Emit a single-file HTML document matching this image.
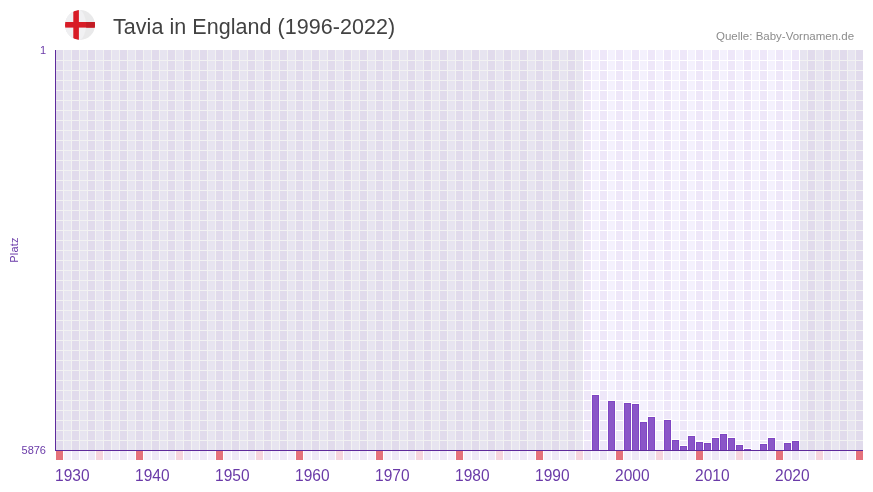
<!DOCTYPE html>
<html><head><meta charset="utf-8">
<style>
html,body{margin:0;padding:0;background:#fff;width:873px;height:492px;overflow:hidden;position:relative;font-family:"Liberation Sans",sans-serif;}
.t{position:absolute;white-space:nowrap;-webkit-font-smoothing:antialiased;will-change:transform;}
</style></head><body>
<svg width="873" height="492" style="position:absolute;left:0;top:0">
<defs><clipPath id="cc"><circle cx="80" cy="25" r="15"/></clipPath></defs>
<g clip-path="url(#cc)">
<rect x="60" y="5" width="40" height="40" fill="#e9e9ea"/>
<rect x="60" y="5" width="18" height="40" fill="#efeff1"/>
<ellipse cx="78" cy="25" rx="8" ry="15.6" fill="#f1f1f3"/>
<path d="M73.3 11.6 L78.9 9.6 L78.9 40.5 L73.3 38.4 Z" fill="#d81c26"/>
<rect x="64" y="22" width="32" height="5.6" fill="#d81c26"/>
<rect x="86.2" y="22" width="10" height="5.6" fill="#c21c24"/>
</g>
</svg>
<div class="t" id="title" style="left:113px;top:15px;font-size:21.5px;letter-spacing:0.05px;color:#424242;">Tavia in England (1996-2022)</div>
<div class="t" id="src" style="left:716px;top:30px;font-size:11.5px;color:#8c8c8c;">Quelle: Baby-Vornamen.de</div>
<svg width="873" height="492" style="position:absolute;left:0;top:0;will-change:transform;-webkit-font-smoothing:antialiased" shape-rendering="crispEdges" font-family="Liberation Sans, sans-serif">
<rect x="56" y="50" width="7" height="400" fill="#eee7f9"/><rect x="64" y="50" width="7" height="400" fill="#f4f1fd"/><rect x="72" y="50" width="7" height="400" fill="#eee7f9"/><rect x="80" y="50" width="7" height="400" fill="#f4f1fd"/><rect x="88" y="50" width="7" height="400" fill="#eee7f9"/><rect x="96" y="50" width="7" height="400" fill="#f4f1fd"/><rect x="104" y="50" width="7" height="400" fill="#eee7f9"/><rect x="112" y="50" width="7" height="400" fill="#f4f1fd"/><rect x="120" y="50" width="7" height="400" fill="#eee7f9"/><rect x="128" y="50" width="7" height="400" fill="#f4f1fd"/><rect x="136" y="50" width="7" height="400" fill="#eee7f9"/><rect x="144" y="50" width="7" height="400" fill="#f4f1fd"/><rect x="152" y="50" width="7" height="400" fill="#eee7f9"/><rect x="160" y="50" width="7" height="400" fill="#f4f1fd"/><rect x="168" y="50" width="7" height="400" fill="#eee7f9"/><rect x="176" y="50" width="7" height="400" fill="#f4f1fd"/><rect x="184" y="50" width="7" height="400" fill="#eee7f9"/><rect x="192" y="50" width="7" height="400" fill="#f4f1fd"/><rect x="200" y="50" width="7" height="400" fill="#eee7f9"/><rect x="208" y="50" width="7" height="400" fill="#f4f1fd"/><rect x="216" y="50" width="7" height="400" fill="#eee7f9"/><rect x="224" y="50" width="7" height="400" fill="#f4f1fd"/><rect x="232" y="50" width="7" height="400" fill="#eee7f9"/><rect x="240" y="50" width="7" height="400" fill="#f4f1fd"/><rect x="248" y="50" width="7" height="400" fill="#eee7f9"/><rect x="256" y="50" width="7" height="400" fill="#f4f1fd"/><rect x="264" y="50" width="7" height="400" fill="#eee7f9"/><rect x="272" y="50" width="7" height="400" fill="#f4f1fd"/><rect x="280" y="50" width="7" height="400" fill="#eee7f9"/><rect x="288" y="50" width="7" height="400" fill="#f4f1fd"/><rect x="296" y="50" width="7" height="400" fill="#eee7f9"/><rect x="304" y="50" width="7" height="400" fill="#f4f1fd"/><rect x="312" y="50" width="7" height="400" fill="#eee7f9"/><rect x="320" y="50" width="7" height="400" fill="#f4f1fd"/><rect x="328" y="50" width="7" height="400" fill="#eee7f9"/><rect x="336" y="50" width="7" height="400" fill="#f4f1fd"/><rect x="344" y="50" width="7" height="400" fill="#eee7f9"/><rect x="352" y="50" width="7" height="400" fill="#f4f1fd"/><rect x="360" y="50" width="7" height="400" fill="#eee7f9"/><rect x="368" y="50" width="7" height="400" fill="#f4f1fd"/><rect x="376" y="50" width="7" height="400" fill="#eee7f9"/><rect x="384" y="50" width="7" height="400" fill="#f4f1fd"/><rect x="392" y="50" width="7" height="400" fill="#eee7f9"/><rect x="400" y="50" width="7" height="400" fill="#f4f1fd"/><rect x="408" y="50" width="7" height="400" fill="#eee7f9"/><rect x="416" y="50" width="7" height="400" fill="#f4f1fd"/><rect x="424" y="50" width="7" height="400" fill="#eee7f9"/><rect x="432" y="50" width="7" height="400" fill="#f4f1fd"/><rect x="440" y="50" width="7" height="400" fill="#eee7f9"/><rect x="448" y="50" width="7" height="400" fill="#f4f1fd"/><rect x="456" y="50" width="7" height="400" fill="#eee7f9"/><rect x="464" y="50" width="7" height="400" fill="#f4f1fd"/><rect x="472" y="50" width="7" height="400" fill="#eee7f9"/><rect x="480" y="50" width="7" height="400" fill="#f4f1fd"/><rect x="488" y="50" width="7" height="400" fill="#eee7f9"/><rect x="496" y="50" width="7" height="400" fill="#f4f1fd"/><rect x="504" y="50" width="7" height="400" fill="#eee7f9"/><rect x="512" y="50" width="7" height="400" fill="#f4f1fd"/><rect x="520" y="50" width="7" height="400" fill="#eee7f9"/><rect x="528" y="50" width="7" height="400" fill="#f4f1fd"/><rect x="536" y="50" width="7" height="400" fill="#eee7f9"/><rect x="544" y="50" width="7" height="400" fill="#f4f1fd"/><rect x="552" y="50" width="7" height="400" fill="#eee7f9"/><rect x="560" y="50" width="7" height="400" fill="#f4f1fd"/><rect x="568" y="50" width="7" height="400" fill="#eee7f9"/><rect x="576" y="50" width="7" height="400" fill="#f4f1fd"/><rect x="584" y="50" width="7" height="400" fill="#eee7f9"/><rect x="592" y="50" width="7" height="400" fill="#f4f1fd"/><rect x="600" y="50" width="7" height="400" fill="#eee7f9"/><rect x="608" y="50" width="7" height="400" fill="#f4f1fd"/><rect x="616" y="50" width="7" height="400" fill="#eee7f9"/><rect x="624" y="50" width="7" height="400" fill="#f4f1fd"/><rect x="632" y="50" width="7" height="400" fill="#eee7f9"/><rect x="640" y="50" width="7" height="400" fill="#f4f1fd"/><rect x="648" y="50" width="7" height="400" fill="#eee7f9"/><rect x="656" y="50" width="7" height="400" fill="#f4f1fd"/><rect x="664" y="50" width="7" height="400" fill="#eee7f9"/><rect x="672" y="50" width="7" height="400" fill="#f4f1fd"/><rect x="680" y="50" width="7" height="400" fill="#eee7f9"/><rect x="688" y="50" width="7" height="400" fill="#f4f1fd"/><rect x="696" y="50" width="7" height="400" fill="#eee7f9"/><rect x="704" y="50" width="7" height="400" fill="#f4f1fd"/><rect x="712" y="50" width="7" height="400" fill="#eee7f9"/><rect x="720" y="50" width="7" height="400" fill="#f4f1fd"/><rect x="728" y="50" width="7" height="400" fill="#eee7f9"/><rect x="736" y="50" width="7" height="400" fill="#f4f1fd"/><rect x="744" y="50" width="7" height="400" fill="#eee7f9"/><rect x="752" y="50" width="7" height="400" fill="#f4f1fd"/><rect x="760" y="50" width="7" height="400" fill="#eee7f9"/><rect x="768" y="50" width="7" height="400" fill="#f4f1fd"/><rect x="776" y="50" width="7" height="400" fill="#eee7f9"/><rect x="784" y="50" width="7" height="400" fill="#f4f1fd"/><rect x="792" y="50" width="7" height="400" fill="#eee7f9"/><rect x="800" y="50" width="7" height="400" fill="#f4f1fd"/><rect x="808" y="50" width="7" height="400" fill="#eee7f9"/><rect x="816" y="50" width="7" height="400" fill="#f4f1fd"/><rect x="824" y="50" width="7" height="400" fill="#eee7f9"/><rect x="832" y="50" width="7" height="400" fill="#f4f1fd"/><rect x="840" y="50" width="7" height="400" fill="#eee7f9"/><rect x="848" y="50" width="7" height="400" fill="#f4f1fd"/><rect x="856" y="50" width="7" height="400" fill="#eee7f9"/><rect x="56" y="60" width="807" height="1" fill="#fff"/><rect x="56" y="70" width="807" height="1" fill="#fff"/><rect x="56" y="80" width="807" height="1" fill="#fff"/><rect x="56" y="90" width="807" height="1" fill="#fff"/><rect x="56" y="100" width="807" height="1" fill="#fff"/><rect x="56" y="110" width="807" height="1" fill="#fff"/><rect x="56" y="120" width="807" height="1" fill="#fff"/><rect x="56" y="130" width="807" height="1" fill="#fff"/><rect x="56" y="140" width="807" height="1" fill="#fff"/><rect x="56" y="150" width="807" height="1" fill="#fff"/><rect x="56" y="160" width="807" height="1" fill="#fff"/><rect x="56" y="170" width="807" height="1" fill="#fff"/><rect x="56" y="180" width="807" height="1" fill="#fff"/><rect x="56" y="190" width="807" height="1" fill="#fff"/><rect x="56" y="200" width="807" height="1" fill="#fff"/><rect x="56" y="210" width="807" height="1" fill="#fff"/><rect x="56" y="220" width="807" height="1" fill="#fff"/><rect x="56" y="230" width="807" height="1" fill="#fff"/><rect x="56" y="240" width="807" height="1" fill="#fff"/><rect x="56" y="250" width="807" height="1" fill="#fff"/><rect x="56" y="260" width="807" height="1" fill="#fff"/><rect x="56" y="270" width="807" height="1" fill="#fff"/><rect x="56" y="280" width="807" height="1" fill="#fff"/><rect x="56" y="290" width="807" height="1" fill="#fff"/><rect x="56" y="300" width="807" height="1" fill="#fff"/><rect x="56" y="310" width="807" height="1" fill="#fff"/><rect x="56" y="320" width="807" height="1" fill="#fff"/><rect x="56" y="330" width="807" height="1" fill="#fff"/><rect x="56" y="340" width="807" height="1" fill="#fff"/><rect x="56" y="350" width="807" height="1" fill="#fff"/><rect x="56" y="360" width="807" height="1" fill="#fff"/><rect x="56" y="370" width="807" height="1" fill="#fff"/><rect x="56" y="380" width="807" height="1" fill="#fff"/><rect x="56" y="390" width="807" height="1" fill="#fff"/><rect x="56" y="400" width="807" height="1" fill="#fff"/><rect x="56" y="410" width="807" height="1" fill="#fff"/><rect x="56" y="420" width="807" height="1" fill="#fff"/><rect x="56" y="430" width="807" height="1" fill="#fff"/><rect x="56" y="440" width="807" height="1" fill="#fff"/><rect x="56" y="50" width="527" height="400" fill="rgba(0,0,0,0.05)"/><rect x="800" y="50" width="63" height="400" fill="rgba(0,0,0,0.05)"/><rect x="591" y="394" width="9" height="56" fill="#fff"/><rect x="592" y="395" width="7" height="55" fill="#7f46c3"/><rect x="593" y="396" width="5" height="54" fill="#8a56c8"/><rect x="607" y="400" width="9" height="50" fill="#fff"/><rect x="608" y="401" width="7" height="49" fill="#7f46c3"/><rect x="609" y="402" width="5" height="48" fill="#8a56c8"/><rect x="623" y="402" width="9" height="48" fill="#fff"/><rect x="624" y="403" width="7" height="47" fill="#7f46c3"/><rect x="625" y="404" width="5" height="46" fill="#8a56c8"/><rect x="631" y="403" width="9" height="47" fill="#fff"/><rect x="632" y="404" width="7" height="46" fill="#7f46c3"/><rect x="633" y="405" width="5" height="45" fill="#8a56c8"/><rect x="639" y="421" width="9" height="29" fill="#fff"/><rect x="640" y="422" width="7" height="28" fill="#7f46c3"/><rect x="641" y="423" width="5" height="27" fill="#8a56c8"/><rect x="647" y="416" width="9" height="34" fill="#fff"/><rect x="648" y="417" width="7" height="33" fill="#7f46c3"/><rect x="649" y="418" width="5" height="32" fill="#8a56c8"/><rect x="663" y="419" width="9" height="31" fill="#fff"/><rect x="664" y="420" width="7" height="30" fill="#7f46c3"/><rect x="665" y="421" width="5" height="29" fill="#8a56c8"/><rect x="671" y="439" width="9" height="11" fill="#fff"/><rect x="672" y="440" width="7" height="10" fill="#7f46c3"/><rect x="673" y="441" width="5" height="9" fill="#8a56c8"/><rect x="679" y="445" width="9" height="5" fill="#fff"/><rect x="680" y="446" width="7" height="4" fill="#7f46c3"/><rect x="681" y="447" width="5" height="3" fill="#8a56c8"/><rect x="687" y="435" width="9" height="15" fill="#fff"/><rect x="688" y="436" width="7" height="14" fill="#7f46c3"/><rect x="689" y="437" width="5" height="13" fill="#8a56c8"/><rect x="695" y="441" width="9" height="9" fill="#fff"/><rect x="696" y="442" width="7" height="8" fill="#7f46c3"/><rect x="697" y="443" width="5" height="7" fill="#8a56c8"/><rect x="703" y="442" width="9" height="8" fill="#fff"/><rect x="704" y="443" width="7" height="7" fill="#7f46c3"/><rect x="705" y="444" width="5" height="6" fill="#8a56c8"/><rect x="711" y="437" width="9" height="13" fill="#fff"/><rect x="712" y="438" width="7" height="12" fill="#7f46c3"/><rect x="713" y="439" width="5" height="11" fill="#8a56c8"/><rect x="719" y="433" width="9" height="17" fill="#fff"/><rect x="720" y="434" width="7" height="16" fill="#7f46c3"/><rect x="721" y="435" width="5" height="15" fill="#8a56c8"/><rect x="727" y="437" width="9" height="13" fill="#fff"/><rect x="728" y="438" width="7" height="12" fill="#7f46c3"/><rect x="729" y="439" width="5" height="11" fill="#8a56c8"/><rect x="735" y="444" width="9" height="6" fill="#fff"/><rect x="736" y="445" width="7" height="5" fill="#7f46c3"/><rect x="737" y="446" width="5" height="4" fill="#8a56c8"/><rect x="743" y="448" width="9" height="2" fill="#fff"/><rect x="744" y="449" width="7" height="1" fill="#7f46c3"/><rect x="759" y="443" width="9" height="7" fill="#fff"/><rect x="760" y="444" width="7" height="6" fill="#7f46c3"/><rect x="761" y="445" width="5" height="5" fill="#8a56c8"/><rect x="767" y="437" width="9" height="13" fill="#fff"/><rect x="768" y="438" width="7" height="12" fill="#7f46c3"/><rect x="769" y="439" width="5" height="11" fill="#8a56c8"/><rect x="783" y="442" width="9" height="8" fill="#fff"/><rect x="784" y="443" width="7" height="7" fill="#7f46c3"/><rect x="785" y="444" width="5" height="6" fill="#8a56c8"/><rect x="791" y="440" width="9" height="10" fill="#fff"/><rect x="792" y="441" width="7" height="9" fill="#7f46c3"/><rect x="793" y="442" width="5" height="8" fill="#8a56c8"/><rect x="56" y="451" width="7" height="9" fill="#e5727c"/><rect x="64" y="451" width="7" height="9" fill="#f4f0fb"/><rect x="72" y="451" width="7" height="9" fill="#eee8f7"/><rect x="80" y="451" width="7" height="9" fill="#f4f0fb"/><rect x="88" y="451" width="7" height="9" fill="#eee8f7"/><rect x="96" y="451" width="7" height="9" fill="#f6d5de"/><rect x="104" y="451" width="7" height="9" fill="#eee8f7"/><rect x="112" y="451" width="7" height="9" fill="#f4f0fb"/><rect x="120" y="451" width="7" height="9" fill="#eee8f7"/><rect x="128" y="451" width="7" height="9" fill="#f4f0fb"/><rect x="136" y="451" width="7" height="9" fill="#e5727c"/><rect x="144" y="451" width="7" height="9" fill="#f4f0fb"/><rect x="152" y="451" width="7" height="9" fill="#eee8f7"/><rect x="160" y="451" width="7" height="9" fill="#f4f0fb"/><rect x="168" y="451" width="7" height="9" fill="#eee8f7"/><rect x="176" y="451" width="7" height="9" fill="#f6d5de"/><rect x="184" y="451" width="7" height="9" fill="#eee8f7"/><rect x="192" y="451" width="7" height="9" fill="#f4f0fb"/><rect x="200" y="451" width="7" height="9" fill="#eee8f7"/><rect x="208" y="451" width="7" height="9" fill="#f4f0fb"/><rect x="216" y="451" width="7" height="9" fill="#e5727c"/><rect x="224" y="451" width="7" height="9" fill="#f4f0fb"/><rect x="232" y="451" width="7" height="9" fill="#eee8f7"/><rect x="240" y="451" width="7" height="9" fill="#f4f0fb"/><rect x="248" y="451" width="7" height="9" fill="#eee8f7"/><rect x="256" y="451" width="7" height="9" fill="#f6d5de"/><rect x="264" y="451" width="7" height="9" fill="#eee8f7"/><rect x="272" y="451" width="7" height="9" fill="#f4f0fb"/><rect x="280" y="451" width="7" height="9" fill="#eee8f7"/><rect x="288" y="451" width="7" height="9" fill="#f4f0fb"/><rect x="296" y="451" width="7" height="9" fill="#e5727c"/><rect x="304" y="451" width="7" height="9" fill="#f4f0fb"/><rect x="312" y="451" width="7" height="9" fill="#eee8f7"/><rect x="320" y="451" width="7" height="9" fill="#f4f0fb"/><rect x="328" y="451" width="7" height="9" fill="#eee8f7"/><rect x="336" y="451" width="7" height="9" fill="#f6d5de"/><rect x="344" y="451" width="7" height="9" fill="#eee8f7"/><rect x="352" y="451" width="7" height="9" fill="#f4f0fb"/><rect x="360" y="451" width="7" height="9" fill="#eee8f7"/><rect x="368" y="451" width="7" height="9" fill="#f4f0fb"/><rect x="376" y="451" width="7" height="9" fill="#e5727c"/><rect x="384" y="451" width="7" height="9" fill="#f4f0fb"/><rect x="392" y="451" width="7" height="9" fill="#eee8f7"/><rect x="400" y="451" width="7" height="9" fill="#f4f0fb"/><rect x="408" y="451" width="7" height="9" fill="#eee8f7"/><rect x="416" y="451" width="7" height="9" fill="#f6d5de"/><rect x="424" y="451" width="7" height="9" fill="#eee8f7"/><rect x="432" y="451" width="7" height="9" fill="#f4f0fb"/><rect x="440" y="451" width="7" height="9" fill="#eee8f7"/><rect x="448" y="451" width="7" height="9" fill="#f4f0fb"/><rect x="456" y="451" width="7" height="9" fill="#e5727c"/><rect x="464" y="451" width="7" height="9" fill="#f4f0fb"/><rect x="472" y="451" width="7" height="9" fill="#eee8f7"/><rect x="480" y="451" width="7" height="9" fill="#f4f0fb"/><rect x="488" y="451" width="7" height="9" fill="#eee8f7"/><rect x="496" y="451" width="7" height="9" fill="#f6d5de"/><rect x="504" y="451" width="7" height="9" fill="#eee8f7"/><rect x="512" y="451" width="7" height="9" fill="#f4f0fb"/><rect x="520" y="451" width="7" height="9" fill="#eee8f7"/><rect x="528" y="451" width="7" height="9" fill="#f4f0fb"/><rect x="536" y="451" width="7" height="9" fill="#e5727c"/><rect x="544" y="451" width="7" height="9" fill="#f4f0fb"/><rect x="552" y="451" width="7" height="9" fill="#eee8f7"/><rect x="560" y="451" width="7" height="9" fill="#f4f0fb"/><rect x="568" y="451" width="7" height="9" fill="#eee8f7"/><rect x="576" y="451" width="7" height="9" fill="#f6d5de"/><rect x="584" y="451" width="7" height="9" fill="#eee8f7"/><rect x="592" y="451" width="7" height="9" fill="#f4f0fb"/><rect x="600" y="451" width="7" height="9" fill="#eee8f7"/><rect x="608" y="451" width="7" height="9" fill="#f4f0fb"/><rect x="616" y="451" width="7" height="9" fill="#e5727c"/><rect x="624" y="451" width="7" height="9" fill="#f4f0fb"/><rect x="632" y="451" width="7" height="9" fill="#eee8f7"/><rect x="640" y="451" width="7" height="9" fill="#f4f0fb"/><rect x="648" y="451" width="7" height="9" fill="#eee8f7"/><rect x="656" y="451" width="7" height="9" fill="#f6d5de"/><rect x="664" y="451" width="7" height="9" fill="#eee8f7"/><rect x="672" y="451" width="7" height="9" fill="#f4f0fb"/><rect x="680" y="451" width="7" height="9" fill="#eee8f7"/><rect x="688" y="451" width="7" height="9" fill="#f4f0fb"/><rect x="696" y="451" width="7" height="9" fill="#e5727c"/><rect x="704" y="451" width="7" height="9" fill="#f4f0fb"/><rect x="712" y="451" width="7" height="9" fill="#eee8f7"/><rect x="720" y="451" width="7" height="9" fill="#f4f0fb"/><rect x="728" y="451" width="7" height="9" fill="#eee8f7"/><rect x="736" y="451" width="7" height="9" fill="#f6d5de"/><rect x="744" y="451" width="7" height="9" fill="#eee8f7"/><rect x="752" y="451" width="7" height="9" fill="#f4f0fb"/><rect x="760" y="451" width="7" height="9" fill="#eee8f7"/><rect x="768" y="451" width="7" height="9" fill="#f4f0fb"/><rect x="776" y="451" width="7" height="9" fill="#e5727c"/><rect x="784" y="451" width="7" height="9" fill="#f4f0fb"/><rect x="792" y="451" width="7" height="9" fill="#eee8f7"/><rect x="800" y="451" width="7" height="9" fill="#f4f0fb"/><rect x="808" y="451" width="7" height="9" fill="#eee8f7"/><rect x="816" y="451" width="7" height="9" fill="#f6d5de"/><rect x="824" y="451" width="7" height="9" fill="#eee8f7"/><rect x="832" y="451" width="7" height="9" fill="#f4f0fb"/><rect x="840" y="451" width="7" height="9" fill="#eee8f7"/><rect x="848" y="451" width="7" height="9" fill="#f4f0fb"/><rect x="856" y="451" width="7" height="9" fill="#e5727c"/><rect x="55" y="50" width="1" height="401" fill="#5e2a9c"/><rect x="55" y="450" width="808" height="1" fill="#5e2a9c"/>
<text x="46" y="54" font-size="11" text-anchor="end" fill="#6a3aa8">1</text>
<text x="46" y="454" font-size="11" text-anchor="end" fill="#6a3aa8">5876</text>
<text x="0" y="0" font-size="11" letter-spacing="0.25" text-anchor="middle" fill="#6a3aa8" transform="translate(18,250) rotate(-90)">Platz</text>
<text x="55" y="481.3" font-size="16" textLength="34.5" lengthAdjust="spacingAndGlyphs" fill="#6a3aa8">1930</text><text x="135" y="481.3" font-size="16" textLength="34.5" lengthAdjust="spacingAndGlyphs" fill="#6a3aa8">1940</text><text x="215" y="481.3" font-size="16" textLength="34.5" lengthAdjust="spacingAndGlyphs" fill="#6a3aa8">1950</text><text x="295" y="481.3" font-size="16" textLength="34.5" lengthAdjust="spacingAndGlyphs" fill="#6a3aa8">1960</text><text x="375" y="481.3" font-size="16" textLength="34.5" lengthAdjust="spacingAndGlyphs" fill="#6a3aa8">1970</text><text x="455" y="481.3" font-size="16" textLength="34.5" lengthAdjust="spacingAndGlyphs" fill="#6a3aa8">1980</text><text x="535" y="481.3" font-size="16" textLength="34.5" lengthAdjust="spacingAndGlyphs" fill="#6a3aa8">1990</text><text x="615" y="481.3" font-size="16" textLength="34.5" lengthAdjust="spacingAndGlyphs" fill="#6a3aa8">2000</text><text x="695" y="481.3" font-size="16" textLength="34.5" lengthAdjust="spacingAndGlyphs" fill="#6a3aa8">2010</text><text x="775" y="481.3" font-size="16" textLength="34.5" lengthAdjust="spacingAndGlyphs" fill="#6a3aa8">2020</text>
</svg>
</body></html>
